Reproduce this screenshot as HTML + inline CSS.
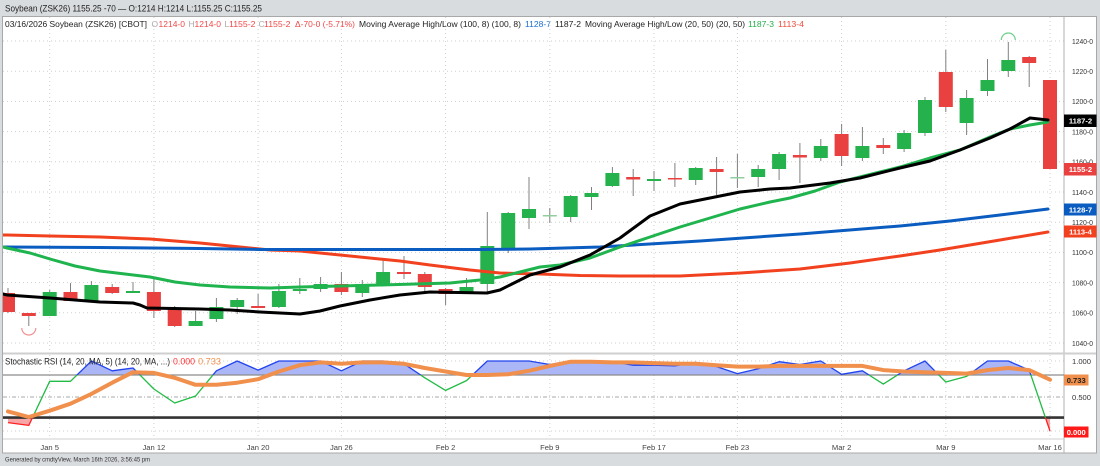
<!DOCTYPE html>
<html><head><meta charset="utf-8"><style>
html,body{margin:0;padding:0;background:#d9dcdf;}
svg{display:block;font-family:"Liberation Sans",Arial,sans-serif;}
</style></head><body>
<svg width="1100" height="466" viewBox="0 0 1100 466" xmlns="http://www.w3.org/2000/svg">
<defs>
<clipPath id="plot"><rect x="3" y="17" width="1061" height="335"/></clipPath>
<clipPath id="cAbove"><rect x="3" y="350" width="1061" height="25"/></clipPath>
<clipPath id="cMid"><rect x="3" y="375" width="1061" height="42.6"/></clipPath>
<clipPath id="cBelow"><rect x="3" y="417.6" width="1061" height="22"/></clipPath>
</defs>
<rect x="0" y="0" width="1100" height="466" fill="#d9dcdf"/>
<text x="5" y="11.5" font-size="9.5" fill="#222" textLength="257" lengthAdjust="spacingAndGlyphs">Soybean (ZSK26) 1155.25 -70 — O:1214 H:1214 L:1155.25 C:1155.25</text>
<rect x="2.5" y="16.5" width="1094" height="436.5" fill="#fff" stroke="#a8a8a8" stroke-width="1"/>

<!-- legend -->
<g font-size="8.5">
<text x="5" y="27" fill="#222" textLength="142" lengthAdjust="spacingAndGlyphs">03/16/2026 Soybean (ZSK26) [CBOT]</text>
<text x="151.5" y="27" fill="#aaa">O</text>
<text x="158.5" y="27" fill="#f04848" textLength="26.5" lengthAdjust="spacingAndGlyphs">1214-0</text>
<text x="188.5" y="27" fill="#aaa">H</text>
<text x="194.5" y="27" fill="#f04848" textLength="26.5" lengthAdjust="spacingAndGlyphs">1214-0</text>
<text x="224.5" y="27" fill="#aaa">L</text>
<text x="229" y="27" fill="#f04848" textLength="26.5" lengthAdjust="spacingAndGlyphs">1155-2</text>
<text x="258.5" y="27" fill="#aaa">C</text>
<text x="264" y="27" fill="#f04848" textLength="26.5" lengthAdjust="spacingAndGlyphs">1155-2</text>
<text x="295" y="27" fill="#f04848" textLength="60" lengthAdjust="spacingAndGlyphs">Δ-70-0 (-5.71%)</text>
<text x="359" y="27" fill="#222" textLength="162" lengthAdjust="spacingAndGlyphs">Moving Average High/Low (100, 8) (100, 8)</text>
<text x="525" y="27" fill="#1a6fd0" textLength="26" lengthAdjust="spacingAndGlyphs">1128-7</text>
<text x="555" y="27" fill="#222" textLength="26" lengthAdjust="spacingAndGlyphs">1187-2</text>
<text x="585" y="27" fill="#222" textLength="160" lengthAdjust="spacingAndGlyphs">Moving Average High/Low (20, 50) (20, 50)</text>
<text x="748" y="27" fill="#22b04b" textLength="26" lengthAdjust="spacingAndGlyphs">1187-3</text>
<text x="778" y="27" fill="#f04a3a" textLength="26" lengthAdjust="spacingAndGlyphs">1113-4</text>
</g>

<!-- grid main -->
<g stroke="#cfcfcf" stroke-width="1" stroke-dasharray="1,3">
<path d="M3,41H1064M3,71.2H1064M3,101.4H1064M3,131.6H1064M3,161.8H1064M3,192H1064M3,222.2H1064M3,252.4H1064M3,282.6H1064M3,312.8H1064M3,343H1064"/>
<path d="M49.7,17V352M153.9,17V352M258.1,17V352M341.4,17V352M445.6,17V352M549.8,17V352M654,17V352M737.4,17V352M841.6,17V352M945.8,17V352M1050,17V352"/>
<path d="M49.7,355V439M153.9,355V439M258.1,355V439M341.4,355V439M445.6,355V439M549.8,355V439M654,355V439M737.4,355V439M841.6,355V439M945.8,355V439M1050,355V439"/>
<path d="M3,361H1064M3,431H1064"/>
</g>

<!-- candles -->
<g clip-path="url(#plot)">
<g stroke="#808080" stroke-width="1">
<path d="M8,288V313M28.8,313V326M49.7,290V316M70.5,283V301M91.4,281V301M112.2,284V294M133,282V293M153.9,278V318M174.7,306V327M195.6,311V326M216.4,298V322M237.2,298V314M258.1,294V308M278.9,284V308M299.8,278V294M320.6,277V292M341.4,272V295M362.3,280V297M383.1,258V284M404,256V279M424.8,272V292M445.6,288V305M466.5,278V294M487.3,212V292M508.2,212V253M529,177V229M549.8,208V223M570.7,195V222M591.5,187V210M612.4,167V187M633.2,169V196M654,171V191M674.9,163V187M695.7,167V185M716.6,157V195M737.4,154V188M758.2,165V187M779.1,152V180M799.9,143V183M820.8,139V161M841.6,124V166M862.4,127V161M883.3,138V154M904.1,130V152M925,97V136M945.8,50V112M966.6,90V135M987.5,59V96M1008.3,42V77M1029.2,56V87"/>
</g>
<g fill="#e8413f">
<rect x="1" y="293" width="14" height="19"/>
<rect x="21.8" y="313" width="14" height="3"/>
<rect x="63.5" y="292" width="14" height="9"/>
<rect x="105.2" y="287" width="14" height="6"/>
<rect x="146.9" y="292" width="14" height="19"/>
<rect x="167.7" y="308" width="14" height="18"/>
<rect x="251.1" y="306" width="14" height="2"/>
<rect x="334.4" y="284" width="14" height="8"/>
<rect x="397" y="272" width="14" height="2"/>
<rect x="417.8" y="274" width="14" height="13"/>
<rect x="438.6" y="289" width="14" height="5"/>
<rect x="626.2" y="177" width="14" height="2.5"/>
<rect x="667.9" y="178" width="14" height="1.5"/>
<rect x="709.6" y="169" width="14" height="3"/>
<rect x="792.9" y="155" width="14" height="2.5"/>
<rect x="834.6" y="134" width="14" height="22"/>
<rect x="876.3" y="145" width="14" height="3"/>
<rect x="938.8" y="72" width="14" height="35"/>
<rect x="1022.2" y="57" width="14" height="6"/>
<rect x="1043" y="80" width="14" height="89"/>
</g>
<g fill="#25b24d">
<rect x="42.7" y="292" width="14" height="24"/>
<rect x="84.4" y="285" width="14" height="16"/>
<rect x="126" y="291" width="14" height="2"/>
<rect x="188.6" y="321" width="14" height="5"/>
<rect x="209.4" y="307" width="14" height="12"/>
<rect x="230.2" y="300" width="14" height="7"/>
<rect x="271.9" y="291" width="14" height="16"/>
<rect x="292.8" y="289" width="14" height="2"/>
<rect x="313.6" y="284" width="14" height="5"/>
<rect x="355.3" y="284" width="14" height="9"/>
<rect x="376.1" y="272" width="14" height="12"/>
<rect x="459.5" y="287" width="14" height="7"/>
<rect x="480.3" y="246" width="14" height="38"/>
<rect x="501.2" y="213" width="14" height="36"/>
<rect x="522" y="209" width="14" height="9"/>
<rect x="542.8" y="215" width="14" height="1.5" fill="#8fcf9f"/>
<rect x="563.7" y="196" width="14" height="21"/>
<rect x="584.5" y="193" width="14" height="4"/>
<rect x="605.4" y="173" width="14" height="13"/>
<rect x="647" y="179" width="14" height="2"/>
<rect x="688.7" y="168" width="14" height="12"/>
<rect x="730.4" y="177" width="14" height="1.5" fill="#8fcf9f"/>
<rect x="751.2" y="169" width="14" height="8"/>
<rect x="772.1" y="154" width="14" height="15"/>
<rect x="813.8" y="146" width="14" height="12"/>
<rect x="855.4" y="146" width="14" height="12"/>
<rect x="897.1" y="133" width="14" height="16"/>
<rect x="918" y="100" width="14" height="33"/>
<rect x="959.6" y="98" width="14" height="25"/>
<rect x="980.5" y="80" width="14" height="11"/>
<rect x="1001.3" y="60" width="14" height="11"/>
</g>
<path d="M21.8,328A7,7 0 0 0 35.8,328" fill="none" stroke="#f29090" stroke-width="1.2"/>
<path d="M1001.3,40A7,7 0 0 1 1015.3,40" fill="none" stroke="#6fd08a" stroke-width="1.2"/>

<!-- moving averages -->
<g fill="none" stroke-width="3" stroke-linejoin="round" stroke-linecap="round">
<polyline stroke="#f2411f" points="3,235 7,235 50,236 100,237 150,239 200,243 240,247 270,250 300,251 350,256 400,261 430,265 470,270 500,273 540,274 580,275.5 620,276 680,276 740,273 800,269 850,263 900,256 940,250 1000,240 1048,232"/>
<polyline stroke="#0b5cc0" points="3,247 100,247.5 200,248.5 260,249.5 400,249.5 480,249.5 530,249 600,247 700,241 800,234 900,226 950,221 1000,215 1048,209"/>
<polyline stroke="#1fb44e" points="3,247 7,248 30,253 50,259 75,266 100,271 125,274 150,277 175,282 200,285 230,287 270,288 300,287 380,285 450,283 480,280 500,277 520,272 540,267 560,265 590,258 620,247 650,237 680,227 710,218 740,209 770,202 790,198 815,191 840,182 860,177 880,172 900,167 930,158 960,150 990,137 1010,129 1030,125 1048,122"/>
<polyline stroke="#000" points="3,294 7,295 50,298 100,302 133,303 140,305 147,308 200,309 230,310 260,312 300,314 320,311 340,306 370,300 400,295 430,292 487,293 500,290 510,285 530,275 560,267 590,255 620,238 650,216 680,204 710,198 740,192 770,189 790,188 830,183 860,178 900,168 930,161 960,150 990,138 1010,129 1030,118 1048,120"/>
</g>
</g>

<!-- axis separator and panel lines -->
<line x1="1064" y1="17" x2="1064" y2="453" stroke="#b0b0b0" stroke-width="1"/>
<rect x="3" y="352.5" width="1093" height="2" fill="#cfcfcf"/>
<line x1="3" y1="439" x2="1064" y2="439" stroke="#cfcfcf" stroke-width="1"/>

<!-- y axis labels main -->
<g font-size="7.6" fill="#333">
<text x="1072" y="43.8" textLength="21" lengthAdjust="spacingAndGlyphs">1240-0</text>
<text x="1072" y="74" textLength="21" lengthAdjust="spacingAndGlyphs">1220-0</text>
<text x="1072" y="104.2" textLength="21" lengthAdjust="spacingAndGlyphs">1200-0</text>
<text x="1072" y="134.4" textLength="21" lengthAdjust="spacingAndGlyphs">1180-0</text>
<text x="1072" y="164.6" textLength="21" lengthAdjust="spacingAndGlyphs">1160-0</text>
<text x="1072" y="194.8" textLength="21" lengthAdjust="spacingAndGlyphs">1140-0</text>
<text x="1072" y="225" textLength="21" lengthAdjust="spacingAndGlyphs">1120-0</text>
<text x="1072" y="255.2" textLength="21" lengthAdjust="spacingAndGlyphs">1100-0</text>
<text x="1072" y="285.4" textLength="21" lengthAdjust="spacingAndGlyphs">1080-0</text>
<text x="1072" y="315.6" textLength="21" lengthAdjust="spacingAndGlyphs">1060-0</text>
<text x="1072" y="345.8" textLength="21" lengthAdjust="spacingAndGlyphs">1040-0</text>
</g>
<g font-size="7.6" font-weight="bold" fill="#fff" text-anchor="middle">
<rect x="1064" y="114.5" width="32.5" height="12.5" fill="#000"/>
<text x="1080.5" y="123.6">1187-2</text>
<rect x="1064" y="163" width="32.5" height="12.5" fill="#e8413f"/>
<text x="1080.5" y="172.1">1155-2</text>
<rect x="1064" y="203.5" width="32.5" height="12" fill="#0b5cc0"/>
<text x="1080.5" y="212.4">1128-7</text>
<rect x="1064" y="225.5" width="32.5" height="12" fill="#f2411f"/>
<text x="1080.5" y="234.4">1113-4</text>
</g>

<!-- stochastic panel -->
<line x1="3" y1="397" x2="1064" y2="397" stroke="#a8a8a8" stroke-width="1" stroke-dasharray="4,2,1,2"/>
<g>
<polygon clip-path="url(#cAbove)" fill="#aab6f6" points="8,375 8,422.6 28.8,425.4 49.7,381.3 70.5,381.3 91.4,361 112.2,370.8 133,368 153.9,389 174.7,403 195.6,396 216.4,370.8 237.2,361 258.1,370.1 278.9,361 299.8,361 320.6,361 341.4,370.8 362.3,361 383.1,361 404,363.8 424.8,377.8 445.6,390.4 466.5,380.6 487.3,361 508.2,361 529,361 549.8,364.5 570.7,361 591.5,361 612.4,361.7 633.2,365.2 654,365.2 674.9,365.9 695.7,362.4 716.6,366.6 737.4,373.6 758.2,368.7 779.1,361.7 799.9,364.5 820.8,361 841.6,374.3 862.4,370.8 883.3,384.1 904.1,370.8 925,361 945.8,382 966.6,376.4 987.5,361 1008.3,361 1029.2,370.1 1050,431 1050,375"/>
<polygon clip-path="url(#cBelow)" fill="#f6a6a6" points="8,417.6 8,422.6 28.8,425.4 49.7,381.3 70.5,381.3 91.4,361 112.2,370.8 133,368 153.9,389 174.7,403 195.6,396 216.4,370.8 237.2,361 258.1,370.1 278.9,361 299.8,361 320.6,361 341.4,370.8 362.3,361 383.1,361 404,363.8 424.8,377.8 445.6,390.4 466.5,380.6 487.3,361 508.2,361 529,361 549.8,364.5 570.7,361 591.5,361 612.4,361.7 633.2,365.2 654,365.2 674.9,365.9 695.7,362.4 716.6,366.6 737.4,373.6 758.2,368.7 779.1,361.7 799.9,364.5 820.8,361 841.6,374.3 862.4,370.8 883.3,384.1 904.1,370.8 925,361 945.8,382 966.6,376.4 987.5,361 1008.3,361 1029.2,370.1 1050,431 1050,417.6"/>
</g>
<line x1="3" y1="375" x2="1064" y2="375" stroke="#8c8c8c" stroke-width="1.2"/>
<line x1="3" y1="417.6" x2="1064" y2="417.6" stroke="#333" stroke-width="2.6"/>
<g fill="none" stroke-width="1.3" stroke-linejoin="round">
<polyline clip-path="url(#cAbove)" stroke="#2244ee" points="8,422.6 28.8,425.4 49.7,381.3 70.5,381.3 91.4,361 112.2,370.8 133,368 153.9,389 174.7,403 195.6,396 216.4,370.8 237.2,361 258.1,370.1 278.9,361 299.8,361 320.6,361 341.4,370.8 362.3,361 383.1,361 404,363.8 424.8,377.8 445.6,390.4 466.5,380.6 487.3,361 508.2,361 529,361 549.8,364.5 570.7,361 591.5,361 612.4,361.7 633.2,365.2 654,365.2 674.9,365.9 695.7,362.4 716.6,366.6 737.4,373.6 758.2,368.7 779.1,361.7 799.9,364.5 820.8,361 841.6,374.3 862.4,370.8 883.3,384.1 904.1,370.8 925,361 945.8,382 966.6,376.4 987.5,361 1008.3,361 1029.2,370.1 1050,431"/>
<polyline clip-path="url(#cMid)" stroke="#22bb44" points="8,422.6 28.8,425.4 49.7,381.3 70.5,381.3 91.4,361 112.2,370.8 133,368 153.9,389 174.7,403 195.6,396 216.4,370.8 237.2,361 258.1,370.1 278.9,361 299.8,361 320.6,361 341.4,370.8 362.3,361 383.1,361 404,363.8 424.8,377.8 445.6,390.4 466.5,380.6 487.3,361 508.2,361 529,361 549.8,364.5 570.7,361 591.5,361 612.4,361.7 633.2,365.2 654,365.2 674.9,365.9 695.7,362.4 716.6,366.6 737.4,373.6 758.2,368.7 779.1,361.7 799.9,364.5 820.8,361 841.6,374.3 862.4,370.8 883.3,384.1 904.1,370.8 925,361 945.8,382 966.6,376.4 987.5,361 1008.3,361 1029.2,370.1 1050,431"/>
<polyline clip-path="url(#cBelow)" stroke="#ff2020" points="8,422.6 28.8,425.4 49.7,381.3 70.5,381.3 91.4,361 112.2,370.8 133,368 153.9,389 174.7,403 195.6,396 216.4,370.8 237.2,361 258.1,370.1 278.9,361 299.8,361 320.6,361 341.4,370.8 362.3,361 383.1,361 404,363.8 424.8,377.8 445.6,390.4 466.5,380.6 487.3,361 508.2,361 529,361 549.8,364.5 570.7,361 591.5,361 612.4,361.7 633.2,365.2 654,365.2 674.9,365.9 695.7,362.4 716.6,366.6 737.4,373.6 758.2,368.7 779.1,361.7 799.9,364.5 820.8,361 841.6,374.3 862.4,370.8 883.3,384.1 904.1,370.8 925,361 945.8,382 966.6,376.4 987.5,361 1008.3,361 1029.2,370.1 1050,431"/>
</g>
<polyline fill="none" stroke="#f0904c" stroke-width="4" stroke-linejoin="round" stroke-linecap="round" points="8,411.4 28.8,417 49.7,410.7 70.5,403.7 91.4,393.9 112.2,382.7 133,372.2 153.9,372.9 174.7,377.8 195.6,384.8 216.4,384.8 237.2,382.7 258.1,379.2 278.9,371.5 299.8,365.2 320.6,362.4 341.4,363.8 362.3,362.4 383.1,362.4 404,363.8 424.8,368 445.6,371.5 466.5,375 487.3,375 508.2,374.3 529,370.8 549.8,365.9 570.7,361.7 591.5,361.7 612.4,362.4 633.2,362.4 654,363.1 674.9,363.8 695.7,363.8 716.6,365.2 737.4,366.6 758.2,366.6 779.1,365.9 799.9,365.9 820.8,365.9 841.6,365.9 862.4,365.9 883.3,370.1 904.1,371.5 925,372.2 945.8,372.9 966.6,373.6 987.5,370.1 1008.3,368 1029.2,370.1 1050,379.7"/>

<!-- stochastic legend -->
<g font-size="9">
<text x="5" y="364.5" fill="#222" textLength="165" lengthAdjust="spacingAndGlyphs">Stochastic RSI (14, 20, MA, 5) (14, 20, MA, ...)</text>
<text x="173" y="364.5" fill="#ff3030" textLength="22" lengthAdjust="spacingAndGlyphs">0.000</text>
<text x="198" y="364.5" fill="#f0904c" textLength="23" lengthAdjust="spacingAndGlyphs">0.733</text>
</g>

<!-- stochastic axis -->
<g font-size="7.6" fill="#333">
<text x="1072" y="363.8" textLength="19" lengthAdjust="spacingAndGlyphs">1.000</text>
<text x="1072" y="399.8" textLength="19" lengthAdjust="spacingAndGlyphs">0.500</text>
</g>
<rect x="1064" y="374.5" width="24.5" height="11" fill="#f0904c"/>
<text x="1076.2" y="382.9" font-size="7.6" font-weight="bold" fill="#222" text-anchor="middle">0.733</text>
<rect x="1064" y="426.5" width="24.5" height="11" fill="#ff1a1a"/>
<text x="1076.2" y="434.9" font-size="7.6" font-weight="bold" fill="#fff" text-anchor="middle">0.000</text>

<!-- date labels -->
<g font-size="7.6" fill="#444" text-anchor="middle">
<text x="49.7" y="450">Jan 5</text>
<text x="153.9" y="450">Jan 12</text>
<text x="258.1" y="450">Jan 20</text>
<text x="341.4" y="450">Jan 26</text>
<text x="445.6" y="450">Feb 2</text>
<text x="549.8" y="450">Feb 9</text>
<text x="654" y="450">Feb 17</text>
<text x="737.4" y="450">Feb 23</text>
<text x="841.6" y="450">Mar 2</text>
<text x="945.8" y="450">Mar 9</text>
<text x="1050" y="450">Mar 16</text>
</g>

<text x="5" y="461.5" font-size="6.3" fill="#333" textLength="145" lengthAdjust="spacingAndGlyphs">Generated by cmdtyView, March 16th 2026, 3:56:45 pm</text>
</svg>
</body></html>
